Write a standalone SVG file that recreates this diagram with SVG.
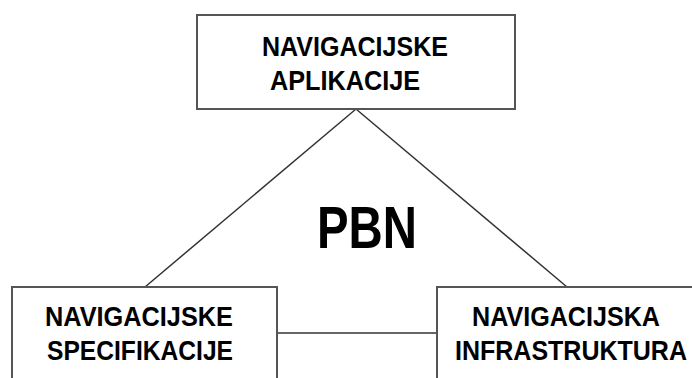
<svg xmlns="http://www.w3.org/2000/svg" width="692" height="378" viewBox="0 0 692 378">
<style>
.box{fill:#fff;stroke:#555;stroke-width:2}
.ln{stroke:#333;stroke-width:1.5;fill:none}
.t{font-family:"Liberation Sans",Arial,sans-serif;font-weight:bold;font-size:28px;fill:#000}
.big{font-family:"Liberation Sans",Arial,sans-serif;font-weight:bold;font-size:60px;fill:#000}
</style>
<rect width="692" height="378" fill="#fff"/>
<g id="connectors">
<line class="ln" x1="356" y1="109" x2="145" y2="287"/>
<line class="ln" x1="356" y1="109" x2="567" y2="287"/>
<line class="ln" x1="277" y1="333" x2="437" y2="333"/>
</g>
<g id="node-aplikacije">
<rect class="box" x="197" y="15" width="318" height="94"/>
<text class="t" x="262" y="56" textLength="186" lengthAdjust="spacingAndGlyphs">NAVIGACIJSKE</text>
<text class="t" x="270" y="90" textLength="150" lengthAdjust="spacingAndGlyphs">APLIKACIJE</text>
</g>
<g id="node-specifikacije">
<rect class="box" x="12" y="287" width="265" height="110"/>
<text class="t" x="45" y="326" textLength="188" lengthAdjust="spacingAndGlyphs">NAVIGACIJSKE</text>
<text class="t" x="47" y="360" textLength="186" lengthAdjust="spacingAndGlyphs">SPECIFIKACIJE</text>
</g>
<g id="node-infrastruktura">
<rect class="box" x="437" y="287" width="280" height="110"/>
<text class="t" x="472" y="326" textLength="188" lengthAdjust="spacingAndGlyphs">NAVIGACIJSKA</text>
<text class="t" x="455" y="360" textLength="232" lengthAdjust="spacingAndGlyphs">INFRASTRUKTURA</text>
</g>
<g id="label-pbn">
<text class="big" x="317" y="248" textLength="100" lengthAdjust="spacingAndGlyphs">PBN</text>
</g>
</svg>
